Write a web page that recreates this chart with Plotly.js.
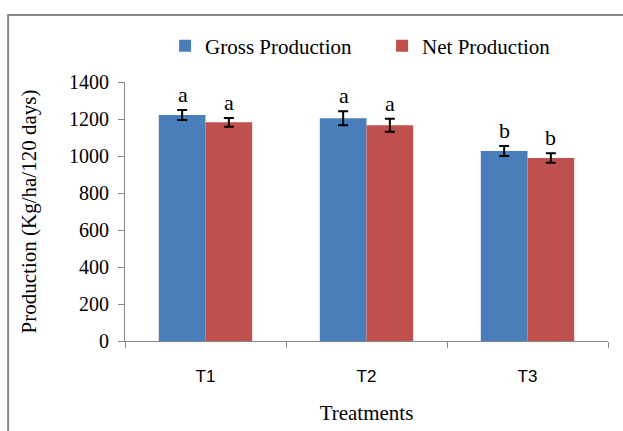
<!DOCTYPE html>
<html>
<head>
<meta charset="utf-8">
<script src="https://cdn.plot.ly/plotly-3.0.1.min.js"></script>
<style>
html,body{margin:0;padding:0;background:#fff;}
#chart{width:623px;height:431px;}
</style>
</head>
<body>
<div id="chart"></div>
<script>
const categories = ['T1', 'T2', 'T3'];
const grossProduction = [1222, 1204, 1027];
const netProduction = [1182, 1166, 989];
const grossError = [27, 38, 27];
const netError = [24, 35, 26];
const grossLetters = ['a', 'a', 'b'];
const netLetters = ['a', 'a', 'b'];
const yTicks = [0, 200, 400, 600, 800, 1000, 1200, 1400];

const serif = 'Liberation Serif, Times New Roman, serif';
const blue = '#4A7EBB';
const red = '#C0504D';

const traces = [
  {
    type: 'bar', name: 'Gross Production', x: categories, y: grossProduction,
    marker: {color: blue},
    error_y: {type: 'data', array: grossError, visible: true, color: '#000', thickness: 2, width: 5}
  },
  {
    type: 'bar', name: 'Net Production', x: categories, y: netProduction,
    marker: {color: red},
    error_y: {type: 'data', array: netError, visible: true, color: '#000', thickness: 2, width: 5}
  }
];

const annotations = [];
categories.forEach((c, i) => {
  annotations.push({x: c, y: grossProduction[i] + grossError[i], xref: 'x', yref: 'y',
    text: grossLetters[i], showarrow: false, xshift: -23, yanchor: 'bottom', yshift: 1,
    font: {family: serif, size: 22, color: '#000'}});
  annotations.push({x: c, y: netProduction[i] + netError[i], xref: 'x', yref: 'y',
    text: netLetters[i], showarrow: false, xshift: 23, yanchor: 'bottom', yshift: 1,
    font: {family: serif, size: 22, color: '#000'}});
});

const layout = {
  width: 623, height: 431,
  margin: {l: 125, r: 15, t: 82, b: 90},
  paper_bgcolor: '#fff', plot_bgcolor: '#fff',
  barmode: 'group', bargap: 0.42, bargroupgap: 0,
  showlegend: true,
  legend: {orientation: 'h', x: 0.083, xanchor: 'left', y: 1.139, yanchor: 'middle',
    bgcolor: 'rgba(0,0,0,0)',
    font: {family: serif, size: 21, color: '#000'}, itemwidth: 30, traceorder: 'normal',
    entrywidth: 172, entrywidthmode: 'pixels'},
  xaxis: {
    type: 'category', showline: true, linecolor: '#888', linewidth: 1,
    ticks: 'outside', tickson: 'boundaries', ticklen: 6, tickcolor: '#888',
    ticklabelstandoff: 20,
    tickfont: {family: 'Liberation Sans, Arial, sans-serif', size: 17, color: '#000'},
    title: {text: 'Treatments', font: {family: serif, size: 21, color: '#000'}, standoff: 19},
    showgrid: false, zeroline: false, fixedrange: true
  },
  yaxis: {
    range: [0, 1400], tickvals: yTicks, showline: true, linecolor: '#888', linewidth: 1,
    ticks: 'outside', ticklen: 6, tickcolor: '#888', ticklabelstandoff: 5,
    tickfont: {family: serif, size: 20, color: '#000'},
    title: {text: 'Production (Kg/ha/120 days)', font: {family: serif, size: 21, color: '#000'}, standoff: 26},
    showgrid: false, zeroline: false, fixedrange: true
  },
  annotations: annotations,
  shapes: [{type: 'rect', xref: 'paper', yref: 'paper', x0: -0.242, x1: 1.06, y0: -0.4, y1: 1.259,
    line: {color: '#888', width: 2}, fillcolor: 'rgba(0,0,0,0)', layer: 'below'}]
};

Plotly.newPlot('chart', traces, layout, {displayModeBar: false, staticPlot: true});
</script>
</body>
</html>
